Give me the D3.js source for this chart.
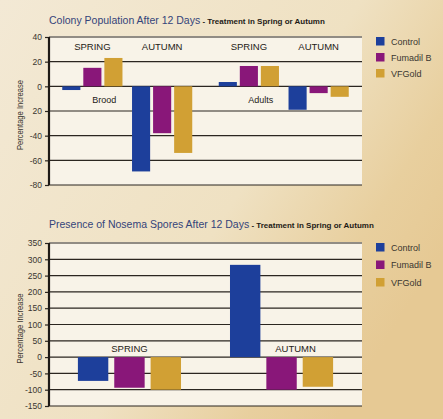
<!DOCTYPE html>
<html>
<head>
<meta charset="utf-8">
<script src="https://cdn.jsdelivr.net/npm/d3@7"></script>
<style>
  body { margin: 0; }
  svg { display: block; font-family: "Liberation Sans", Arial, sans-serif; }
</style>
</head>
<body>
<svg id="chart" width="443" height="419"></svg>
<script>
// ---- data ----
const series = ["Control", "Fumadil B", "VFGold"];
const seasons = ["SPRING", "AUTUMN"];
const colonyGroups = ["Brood", "Adults"];

// Colony population (% increase)
const broodSpring = [-3, 15, 23];
const broodAutumn = [-69, -38, -54];
const adultsSpring = [3.5, 16.5, 16.5];
const adultsAutumn = [-19, -5.5, -8.5];

// Nosema spores (% increase)
const sporesSpring = [-73, -94, -100];
const sporesAutumn = [283, -100, -91];

const colonyTicks = [40, 20, 0, -20, -40, -60, -80];
const colonyTickLabels = ["40", "20", "0", "20", "-40", "-60", "-80"]; // as printed
const sporesTicks = [350, 300, 250, 200, 150, 100, 50, 0, -50, -100, -150];

const svg = d3.select("#chart");
const W = +svg.attr("width"), H = +svg.attr("height");

const color = d3.scaleOrdinal().domain(series).range(["#1d3f9b", "#891779", "#d1a034"]);

// ---- background ----
const defs = svg.append("defs");
const bg = defs.append("linearGradient").attr("id", "bg")
    .attr("x1", "0").attr("y1", "0").attr("x2", "1").attr("y2", "0.6");
bg.append("stop").attr("offset", "0").attr("stop-color", "#f3e9d5");
bg.append("stop").attr("offset", "0.6").attr("stop-color", "#efe1c2");
bg.append("stop").attr("offset", "0.85").attr("stop-color", "#e8cf9e");
bg.append("stop").attr("offset", "1").attr("stop-color", "#e6c994");
svg.append("rect").attr("width", W).attr("height", H).attr("fill", "url(#bg)");

const plotLeft = 49, plotRight = 362;

function drawPanel(opt) {
    const g = svg.append("g");
    const y = d3.scaleLinear().domain(opt.domain).range([opt.bottom, opt.top]);

    // panel
    g.append("rect")
        .attr("x", plotLeft).attr("y", opt.top - 1)
        .attr("width", plotRight - plotLeft).attr("height", opt.bottom - opt.top + 1)
        .attr("fill", "#f8f3e8");

    // grid lines
    g.selectAll(".grid").data(opt.ticks).join("line")
        .attr("x1", plotLeft).attr("x2", plotRight)
        .attr("y1", d => y(d)).attr("y2", d => y(d))
        .attr("stroke", "#2b2620").attr("stroke-width", 1.2);

    // bars
    opt.drawBars(g, y);

    // y axis
    const axis = g.append("g")
        .attr("transform", `translate(${plotLeft},0)`)
        .call(d3.axisLeft(y).tickValues(opt.ticks).tickSize(4).tickPadding(3)
            .tickFormat((d, i) => opt.tickLabels ? opt.tickLabels[i] : d));
    axis.select(".domain").remove();
    axis.selectAll("line").attr("stroke", "#2b2620").attr("stroke-width", 1.2);
    axis.selectAll("text").attr("fill", "#3a3630").style("font-size", "8.5px");
    g.append("line")
        .attr("x1", plotLeft).attr("x2", plotLeft)
        .attr("y1", opt.top).attr("y2", opt.bottom)
        .attr("stroke", "#1e1a16").attr("stroke-width", 2.2);

    // axis title
    g.append("text")
        .attr("transform", `translate(23,${(opt.top + opt.bottom) / 2 + 4}) rotate(-90)`)
        .attr("text-anchor", "middle")
        .attr("fill", "#3a3630")
        .style("font-size", "9px")
        .attr("textLength", 70).attr("lengthAdjust", "spacingAndGlyphs")
        .text("Percentage Increase");

    // title
    const t = g.append("text").attr("x", plotLeft).attr("y", opt.titleY);
    t.append("tspan").attr("fill", "#34447a").style("font-size", "10.5px").text(opt.title);
    t.append("tspan").attr("fill", "#1e1a16").style("font-size", "8px").style("font-weight", "bold")
        .text(" - Treatment in Spring or Autumn");

    // legend
    const lg = g.append("g").attr("transform", `translate(376,${opt.legendY})`);
    series.forEach((s, i) => {
        lg.append("rect").attr("x", 0).attr("y", i * opt.legendStep)
            .attr("width", 8.5).attr("height", 8.5).attr("fill", color(s));
        lg.append("text").attr("x", 15).attr("y", i * opt.legendStep + 7.5)
            .attr("fill", "#3a3630").style("font-size", "9px").text(s);
    });
}

// ---- top chart: colony population ----
const colonyData = [
    { group: "Brood", season: "SPRING", values: broodSpring },
    { group: "Brood", season: "AUTUMN", values: broodAutumn },
    { group: "Adults", season: "SPRING", values: adultsSpring },
    { group: "Adults", season: "AUTUMN", values: adultsAutumn }
];
const xOuter = d3.scaleBand().domain(colonyGroups).range([plotLeft, plotRight]);
const xSeason = d3.scaleBand().domain(seasons).range([0, xOuter.bandwidth()])
    .paddingInner(0.137).paddingOuter(0.19);
const xSeries = d3.scaleBand().domain(series).range([0, xSeason.bandwidth()])
    .paddingInner(0.14).paddingOuter(0);

drawPanel({
    top: 37, bottom: 185, domain: [-80, 40],
    ticks: colonyTicks, tickLabels: colonyTickLabels,
    title: "Colony Population After 12 Days", titleY: 24,
    legendY: 37, legendStep: 16,
    drawBars: (g, y) => {
        colonyData.forEach(d => {
            const x0 = xOuter(d.group) + xSeason(d.season);
            g.selectAll(null).data(d.values.map((v, i) => ({ v, s: series[i] }))).join("rect")
                .attr("x", e => x0 + xSeries(e.s))
                .attr("width", xSeries.bandwidth())
                .attr("y", e => y(Math.max(0, e.v)))
                .attr("height", e => Math.abs(y(e.v) - y(0)))
                .attr("fill", e => color(e.s));
            g.append("text")
                .attr("x", x0 + xSeason.bandwidth() / 2).attr("y", 50)
                .attr("text-anchor", "middle").attr("fill", "#1e1a16")
                .style("font-size", "9.5px").text(d.season);
        });
        colonyGroups.forEach(c => {
            g.append("text")
                .attr("x", xOuter(c) + xOuter.bandwidth() / 2 - 23).attr("y", 103)
                .attr("text-anchor", "middle").attr("fill", "#1e1a16")
                .style("font-size", "9px").text(c);
        });
    }
});

// ---- bottom chart: nosema spores ----
const sporesData = [
    { season: "SPRING", values: sporesSpring },
    { season: "AUTUMN", values: sporesAutumn }
];
const xS = d3.scaleBand().domain(seasons).range([plotLeft, plotRight])
    .paddingInner(0.322).paddingOuter(0.19);
const xSS = d3.scaleBand().domain(series).range([0, xS.bandwidth()])
    .paddingInner(0.164).paddingOuter(0);

drawPanel({
    top: 243, bottom: 406, domain: [-150, 350],
    ticks: sporesTicks,
    title: "Presence of Nosema Spores After 12 Days", titleY: 228,
    legendY: 243, legendStep: 17.5,
    drawBars: (g, y) => {
        sporesData.forEach((d, k) => {
            const x0 = xS(d.season);
            g.selectAll(null).data(d.values.map((v, i) => ({ v, s: series[i] }))).join("rect")
                .attr("x", e => x0 + xSS(e.s))
                .attr("width", xSS.bandwidth())
                .attr("y", e => y(Math.max(0, e.v)))
                .attr("height", e => Math.abs(y(e.v) - y(0)))
                .attr("fill", e => color(e.s));
            g.append("text")
                .attr("x", x0 + xS.bandwidth() / 2 + (k === 1 ? 14 : 0)).attr("y", 352)
                .attr("text-anchor", "middle").attr("fill", "#1e1a16")
                .style("font-size", "9.5px").text(d.season);
        });
    }
});
</script>
</body>
</html>
